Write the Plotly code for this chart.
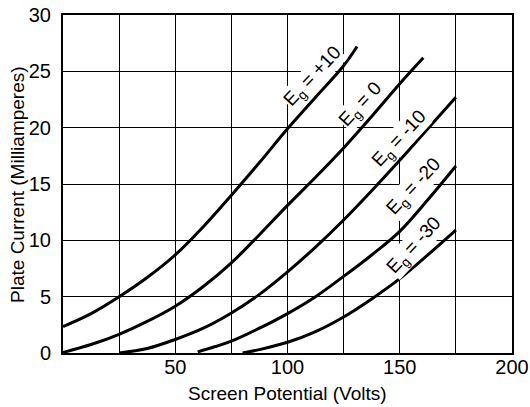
import plotly.graph_objects as go

# Screen potential (V) sample points and plate current (mA) per grid bias
x_p10 = [0, 12.5, 25, 37.5, 50, 62.5, 75, 87.5, 100, 112.5, 125, 131]
y_p10 = [2.35, 3.5, 5.0, 6.7, 8.7, 11.2, 14.0, 16.9, 19.9, 22.7, 25.5, 27.2]

x_0 = [0, 12.5, 25, 37.5, 50, 62.5, 75, 87.5, 100, 112.5, 125, 137.5, 150, 160.5]
y_0 = [0.05, 0.75, 1.66, 2.8, 4.15, 5.9, 8.0, 10.5, 13.1, 15.6, 18.2, 21.0, 23.9, 26.2]

x_m10 = [25, 37.5, 50, 62.5, 75, 87.5, 100, 112.5, 125, 137.5, 150, 162.5, 175]
y_m10 = [0.0, 0.4, 1.2, 2.2, 3.55, 5.2, 7.2, 9.4, 11.8, 14.4, 17.1, 19.9, 22.7]

x_m20 = [60, 67.5, 75, 87.5, 100, 112.5, 125, 137.5, 150, 162.5, 175]
y_m20 = [0.1, 0.55, 1.05, 2.2, 3.5, 5.0, 6.8, 8.7, 10.8, 13.6, 16.6]

x_m30 = [80, 87.5, 100, 112.5, 125, 137.5, 150, 162.5, 175]
y_m30 = [0.0, 0.3, 0.95, 1.9, 3.2, 4.8, 6.6, 8.7, 10.9]

series = [(x_p10, y_p10), (x_0, y_0), (x_m10, y_m10), (x_m20, y_m20), (x_m30, y_m30)]

label_text = ["E<sub>g</sub> = +10", "E<sub>g</sub> = 0", "E<sub>g</sub> = -10",
              "E<sub>g</sub> = -20", "E<sub>g</sub> = -30"]
label_x = [111.3, 132.7, 150, 156.5, 156.5]
label_y = [24.5, 22.0, 19.0, 14.7, 9.5]

x_tickvals = [0, 25, 50, 75, 100, 125, 150, 175, 200]
x_ticktext = ["", "", "50", "", "100", "", "150", "", "200"]
y_tickvals = [0, 5, 10, 15, 20, 25, 30]

FONT = "Liberation Sans, Arial, sans-serif"

fig = go.Figure()
for xs, ys in series:
    fig.add_trace(go.Scatter(x=xs, y=ys, mode="lines",
                             line=dict(color="black", width=3, shape="spline", smoothing=1.0),
                             showlegend=False, hoverinfo="skip"))

for t, lx, ly in zip(label_text, label_x, label_y):
    fig.add_annotation(x=lx, y=ly, text=t, showarrow=False, textangle=-47,
                       bgcolor="white", borderpad=0,
                       font=dict(size=19, color="black", family=FONT))

fig.add_annotation(x=0.5, xref="paper", y=-0.12, yref="paper", yanchor="middle",
                   text="Screen Potential (Volts)", showarrow=False,
                   font=dict(size=19, color="black", family=FONT))
fig.add_annotation(x=-0.1026, xref="paper", y=0.5, yref="paper", xanchor="center",
                   text="Plate Current (Milliamperes)", showarrow=False, textangle=-90,
                   font=dict(size=19, color="black", family=FONT))

fig.update_layout(
    width=530, height=407,
    margin=dict(l=63, r=18, t=15, b=54, autoexpand=False),
    paper_bgcolor="white", plot_bgcolor="white",
    font=dict(family=FONT, color="black"),
    xaxis=dict(range=[0, 200], tickvals=x_tickvals, ticktext=x_ticktext,
               showgrid=True, gridcolor="black", gridwidth=1, automargin=False,
               showline=True, linecolor="black", linewidth=2, mirror=True,
               zeroline=False, ticks="", tickfont=dict(size=20), ticklabelstandoff=-5),
    yaxis=dict(range=[0, 30], tickvals=y_tickvals,
               showgrid=True, gridcolor="black", gridwidth=1, automargin=False,
               showline=True, linecolor="black", linewidth=2, mirror=True,
               zeroline=False, ticks="", tickfont=dict(size=20), ticklabelstandoff=6),
)

fig.write_html("out.html", config={"displayModeBar": False},
               post_script="document.body.style.margin='0';document.body.style.overflow='hidden';")
